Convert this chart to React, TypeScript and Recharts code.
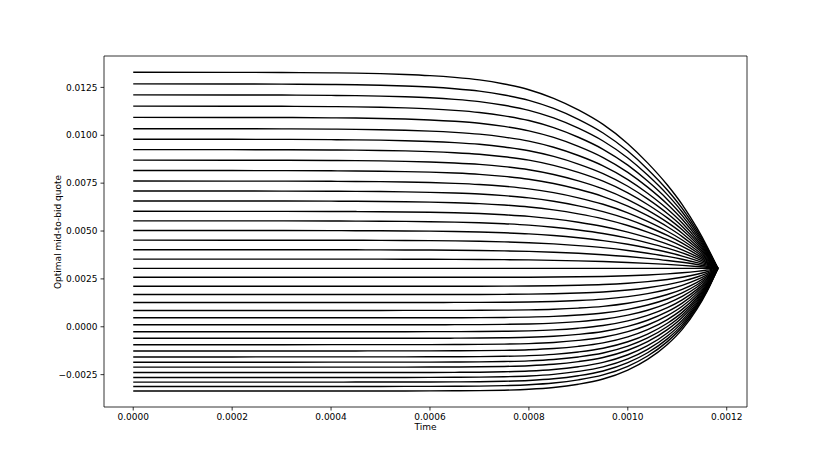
import { LineChart, Line, XAxis, YAxis, ReferenceArea } from "recharts";

// time grid (s) and the shape of the curves, read off the top and bottom curves:
// share of the way from the t=0 quote to the terminal quote
const TIME = [
  0, 0.0002, 0.0003, 0.0004, 0.00045, 0.0005, 0.00055, 0.0006, 0.00065, 0.0007, 0.00075,
  0.0008, 0.00085, 0.0009, 0.00095, 0.001, 0.00104, 0.00108, 0.00111, 0.00114, 0.00116, 0.001182,
];
const UPPER_SHAPE = [
  0, 0.0004, 0.001, 0.003, 0.0045, 0.007, 0.011, 0.017, 0.026, 0.039, 0.06,
  0.089, 0.133, 0.192, 0.266, 0.364, 0.462, 0.575, 0.675, 0.795, 0.887, 1,
];
const LOWER_SHAPE = [
  0, 0, 0.0001, 0.0002, 0.0003, 0.0005, 0.0008, 0.0012, 0.002, 0.0035, 0.0072,
  0.0145, 0.029, 0.056, 0.098, 0.171, 0.258, 0.38, 0.503, 0.669, 0.81, 1,
];

// quote every curve meets at the end of the horizon
const END_QUOTE = 0.00305;

// quote at t = 0, one per inventory level, top to bottom
const START_QUOTES = [
  0.01329, 0.012682, 0.01211, 0.011523, 0.010935, 0.010343, 0.009792, 0.009252, 0.008701, 0.00816,
  0.007609, 0.007089, 0.00657, 0.006029, 0.00553, 0.005026, 0.004522, 0.004023, 0.003534, 0.003051,
  0.002583, 0.002115, 0.001684, 0.001268, 0.000852, 0.000468, 0.000104, -0.00026, -0.000603, -0.000936,
  -0.001263, -0.001575, -0.00185, -0.00211, -0.002391, -0.002651, -0.00289, -0.003119, -0.003358,
];

const X_TICKS = [0, 0.0002, 0.0004, 0.0006, 0.0008, 0.001, 0.0012];
const Y_TICKS = [-0.0025, 0, 0.0025, 0.005, 0.0075, 0.01, 0.0125];

const X_MIN = -0.0000591;
const X_MAX = 0.001241;
const Y_MIN = -0.00419;
const Y_MAX = 0.01414;

const rows = TIME.map((t, i) => {
  const row: Record<string, number> = { t };
  START_QUOTES.forEach((q0, k) => {
    const shape = q0 >= END_QUOTE ? UPPER_SHAPE : LOWER_SHAPE;
    row["q" + k] = q0 + (END_QUOTE - q0) * shape[i];
  });
  return row;
});

const fmt = (v: number) => {
  const s = Math.abs(v) < 1e-12 ? "0.0000" : v.toFixed(4);
  return s.replace("-", "\u2212");
};

const FONT = "'DejaVu Sans', sans-serif";
const tickStyle = { fill: "#000", fontSize: 9, fontFamily: FONT };

export default function App() {
  return (
    <div style={{ position: "relative", width: 830, height: 467, background: "#fff" }}>
      <style>{"body{margin:0}"}</style>
      <LineChart
        width={830}
        height={467}
        data={rows}
        margin={{ top: 56, right: 83, bottom: 30, left: 44 }}
      >
        <XAxis
          dataKey="t"
          type="number"
          domain={[X_MIN, X_MAX]}
          ticks={X_TICKS}
          tickFormatter={fmt}
          allowDataOverflow
          height={30}
          axisLine={false}
          tickSize={3.5}
          tickMargin={3}
          tickLine={{ stroke: "#000", strokeWidth: 0.8 }}
          tick={tickStyle}
          interval={0}
        />
        <YAxis
          type="number"
          domain={[Y_MIN, Y_MAX]}
          ticks={Y_TICKS}
          tickFormatter={fmt}
          allowDataOverflow
          width={60}
          axisLine={false}
          tickSize={3.5}
          tickMargin={3}
          tickLine={{ stroke: "#000", strokeWidth: 0.8 }}
          tick={tickStyle}
          interval={0}
        />
        <ReferenceArea
          x1={X_MIN}
          x2={X_MAX}
          y1={Y_MIN}
          y2={Y_MAX}
          fill="none"
          stroke="#000"
          strokeWidth={0.8}
          ifOverflow="visible"
        />
        {START_QUOTES.map((_, k) => (
          <Line
            key={k}
            dataKey={"q" + k}
            type="monotone"
            stroke="#000"
            strokeWidth={1.4}
            dot={false}
            activeDot={false}
            isAnimationActive={false}
          />
        ))}
      </LineChart>
      <div
        style={{
          position: "absolute",
          left: 425.5,
          top: 422,
          transform: "translateX(-50%)",
          fontFamily: FONT,
          fontSize: 9,
          whiteSpace: "nowrap",
        }}
      >
        Time
      </div>
      <div
        style={{
          position: "absolute",
          left: 58,
          top: 231.5,
          transform: "translate(-50%, -50%) rotate(-90deg)",
          fontFamily: FONT,
          fontSize: 9,
          whiteSpace: "nowrap",
        }}
      >
        Optimal mid-to-bid quote
      </div>
    </div>
  );
}
